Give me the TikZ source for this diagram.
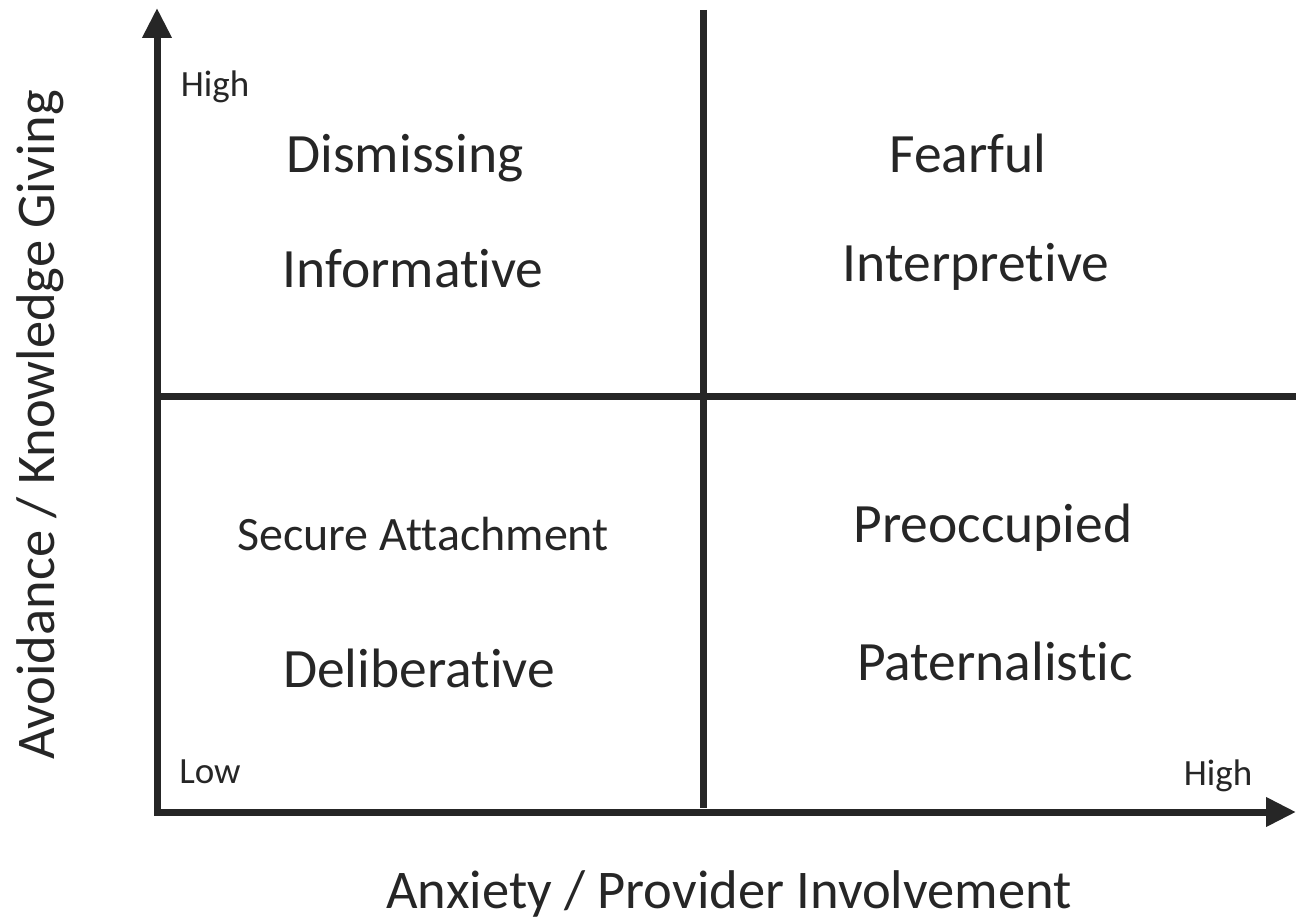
\documentclass[tikz,border=0pt]{standalone}
\usepackage{fontspec}
\setmainfont{Carlito}[Ligatures={NoCommon,NoContextual}]
\usetikzlibrary{arrows.meta}
\definecolor{ink}{HTML}{262626}
\tikzset{
  axis/.style={draw=ink, line width=7pt, line join=miter},
  divider/.style={draw=ink, line width=7pt},
  quad/.style={text=ink, font=\fontsize{55.5}{62}\selectfont, inner sep=0pt},
  small/.style={text=ink, font=\fontsize{37}{42}\selectfont, inner sep=0pt},
  title/.style={text=ink, font=\fontsize{54.5}{62}\selectfont, inner sep=0pt}
}
\begin{document}
\begin{tikzpicture}[x=1pt,y=-1pt]
\useasboundingbox (0,0) rectangle (1296,920);
\coordinate (o) at (157,812);
\coordinate (ytop) at (157,8);
\coordinate (xend) at (1296,812);
\coordinate (vtop) at (703,10);
\coordinate (vbot) at (703,808);
\coordinate (hleft) at (157,396);
\coordinate (hright) at (1296,396);
\draw[divider] (vtop) -- (vbot);
\draw[divider] (hleft) -- (hright);
\draw[axis, {Triangle[length=30pt,width=28pt]}-{Triangle[length=30pt,width=28pt]}] (ytop) -- (o) -- (xend);
\node[small] (hi1) at (215,87) {High};
\node[small] (lo) at (210,772) {Low};
\node[small] (hi2) at (1218,776) {High};
\node[quad] (dis) at (405,158) {Dismissing};
\node[quad] (inf) at (413,269) {Informative};
\node[quad] (fea) at (968,153) {Fearful};
\node[quad] (int) at (976,267) {Interpretive};
\node[quad, font=\fontsize{48}{54}\selectfont] (sec) at (423,534) {Secure Attachment};
\node[quad] (del) at (419,668) {Deliberative};
\node[quad] (pre) at (993,528) {Preoccupied};
\node[quad] (pat) at (995,661) {Paternalistic};
\node[title] (xl) at (729,894) {Anxiety / Provider Involvement};
\node[title, rotate=90] (yl) at (40,425) {Avoidance / Knowledge Giving};
\end{tikzpicture}
\end{document}
